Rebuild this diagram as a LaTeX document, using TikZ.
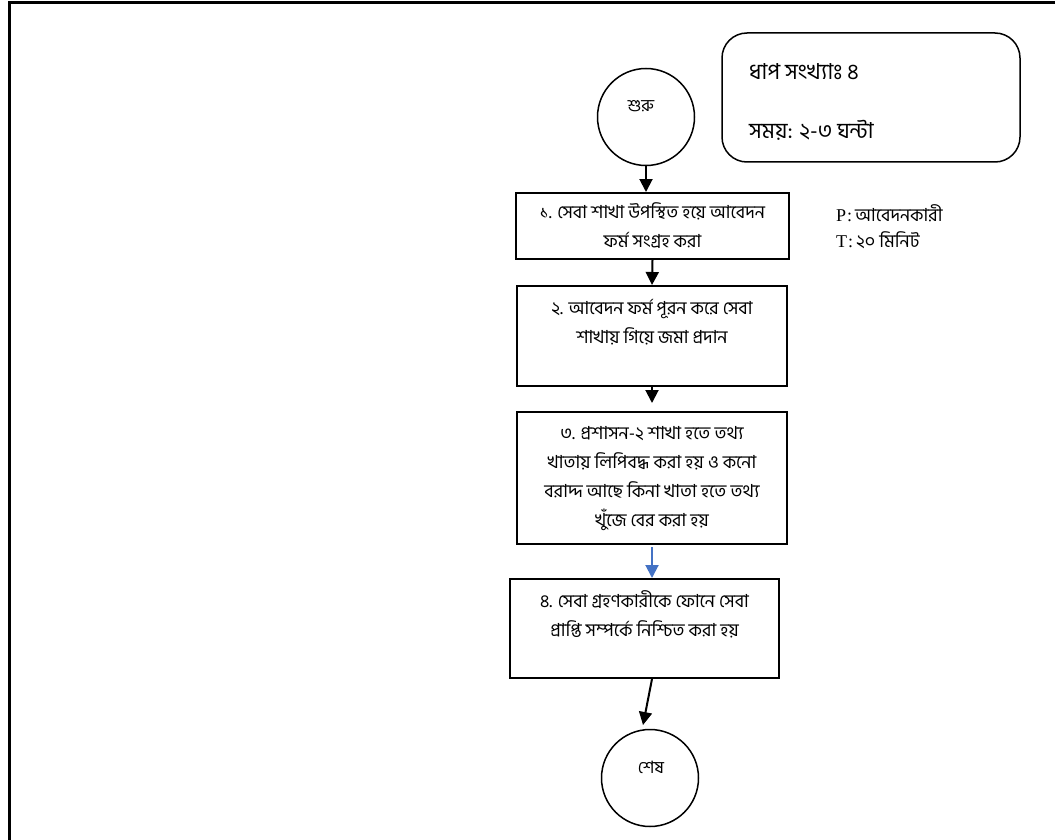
\documentclass[tikz,border=0pt]{standalone}
\usepackage{fontspec}
\setmainfont{Liberation Serif}
\newfontfamily\bn[Script=Bengali]{Hind Siliguri}
\usetikzlibrary{arrows.meta}
\definecolor{arrblue}{RGB}{68,114,196}
\tikzset{
  stepbox/.style={draw, line width=2pt, rectangle, inner sep=0pt},
  circ/.style={draw, line width=1.5pt, circle, inner sep=0pt, minimum size=97pt},
  txt/.style={align=center, font=\bn\fontsize{18}{29}\selectfont, inner sep=0pt},
  arr/.style={line width=2pt, -{Triangle[length=13pt,width=13pt]}},
}
\begin{document}
\begin{tikzpicture}[x=1pt,y=-1pt]
\useasboundingbox (0,0) rectangle (1055,840);
% outer frame (partial)
\coordinate (fr1) at (9,840);
\coordinate (fr2) at (9,3);
\coordinate (fr3) at (1055,3);
\draw[line width=3pt] (fr1) -- (fr2) -- (fr3);

% info box
\node[draw, line width=1.5pt, rounded corners=25pt, minimum width=298pt, minimum height=129pt] (info) at (871,97.5) {};
\node[anchor=west, font=\bn\fontsize{22}{24}\selectfont, inner sep=0pt] (info1) at (749,72) {ধাপ সংখ্যাঃ ৪};
\node[anchor=west, font=\bn\fontsize{22}{24}\selectfont, inner sep=0pt] (info2) at (749,130) {সময়: ২-৩ ঘন্টা};

% start
\node[circ] (start) at (646,117) {};
\node[txt, font=\bn\fontsize{17}{18}\selectfont] (startt) at (641,106) {শুরু};

% box 1
\node[stepbox, minimum width=273pt, minimum height=66pt] (b1) at (652.5,226) {};
\node[txt, anchor=north] (b1t) at ([yshift=-10pt]b1.north) {১. সেবা শাখা উপস্থিত হয়ে আবেদন\\ফর্ম সংগ্রহ করা};

% P/T
\node[anchor=west, inner sep=0pt, font=\fontsize{18}{26}\selectfont, align=left] (pt) at (836,227) {P\kern1pt:\,{\bn\fontsize{18}{18}\selectfont আবেদনকারী}\\T\kern1pt:\,{\bn\fontsize{18}{18}\selectfont ২০ মিনিট}};

% box 2
\node[stepbox, minimum width=270pt, minimum height=100pt] (b2) at (652,336) {};
\node[txt, anchor=north] (b2t) at ([yshift=-14pt]b2.north) {২. আবেদন ফর্ম পূরন করে সেবা\\শাখায় গিয়ে জমা প্রদান};

% box 3
\node[stepbox, minimum width=270pt, minimum height=132pt] (b3) at (652,478) {};
\node[txt, anchor=north] (b3t) at ([yshift=-15pt]b3.north) {৩. প্রশাসন-২ শাখা হতে তথ্য\\খাতায় লিপিবদ্ধ করা হয় ও কনো\\বরাদ্দ আছে কিনা খাতা হতে তথ্য\\খুঁজে বের করা হয়};

% box 4
\node[stepbox, minimum width=269pt, minimum height=99pt] (b4) at (644.5,628.5) {};
\node[txt, anchor=north] (b4t) at ([yshift=-12pt]b4.north) {৪. সেবা গ্রহণকারীকে ফোনে সেবা\\প্রাপ্তি সম্পর্কে নিশ্চিত করা হয়};

% end
\node[circ] (end) at (650,778) {};
\node[txt, font=\bn\fontsize{17}{18}\selectfont] (endt) at (651,767) {শেষ};

% connectors
\draw[arr] (start.south) -- (start.south |- b1.north);
\draw[arr] (b1.south) -- (b2.north);
\draw[arr] (b2.south) -- ([yshift=8pt]b3.north);
\draw[arr, arrblue] ([yshift=-2pt]b3.south) -- (b3.south |- b4.north);
\coordinate (e5) at (643,725);
\draw[arr] ([xshift=7.5pt]b4.south) -- (e5);
\end{tikzpicture}
\end{document}
